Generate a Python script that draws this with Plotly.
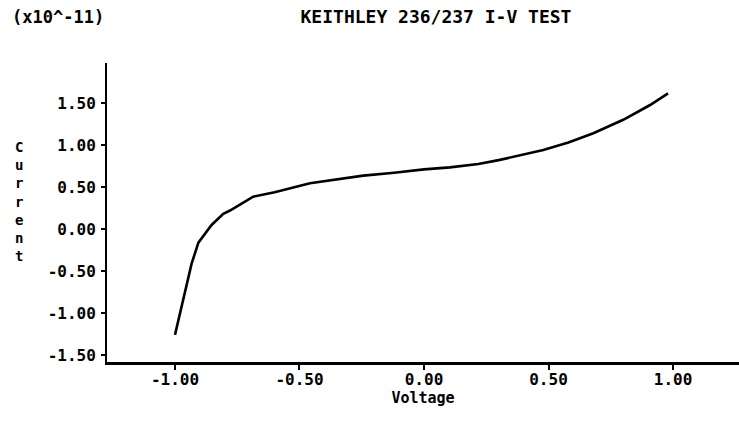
import plotly.graph_objects as go

# I-V sweep from the Keithley 236/237 (current in units of 1e-11 A)
voltage = [-1.00, -0.967, -0.933, -0.906, -0.853, -0.806, -0.779, -0.686, -0.60,
           -0.458, -0.35, -0.244, -0.12, 0.00, 0.104, 0.218, 0.30, 0.479, 0.58,
           0.68, 0.80, 0.908, 0.98]
current = [-1.26, -0.845, -0.41, -0.163, 0.048, 0.18, 0.22, 0.385, 0.437,
           0.544, 0.59, 0.635, 0.67, 0.71, 0.734, 0.774, 0.82, 0.94, 1.03,
           1.14, 1.30, 1.476, 1.615]

x_tickvals = [-1.0, -0.5, 0.0, 0.5, 1.0]
x_ticktext = ["-1.00", "-0.50", "0.00", "0.50", "1.00"]
y_tickvals = [1.5, 1.0, 0.5, 0.0, -0.5, -1.0, -1.5]
y_ticktext = ["1.50", "1.00", "0.50", "0.00", "-0.50", "-1.00", "-1.50"]

W, H = 739, 438
ML, MR, MT, MB = 107, 0, 63, 76
FONT = "DejaVu Sans Mono"

def px_x(px):
    return (px - ML) / (W - ML - MR)

def px_y(py):
    return 1 - (py - MT) / (H - MT - MB)

def bold(size):
    return dict(family=FONT, size=size, color="black", weight="bold")

fig = go.Figure()
fig.add_trace(go.Scatter(
    x=voltage, y=current, mode="lines",
    line=dict(color="black", width=2.6),
    hoverinfo="skip", showlegend=False,
))

fig.update_layout(
    width=W, height=H,
    margin=dict(l=ML, r=MR, t=MT, b=MB, pad=0),
    paper_bgcolor="white", plot_bgcolor="white",
    font=bold(15),
    title=dict(
        text="KEITHLEY 236/237 I-V TEST",
        x=436 / W, xref="container", xanchor="center",
        y=1 - 17 / H, yref="container", yanchor="middle",
        font=bold(18),
    ),
    xaxis=dict(
        range=[-1.273, 1.265],
        tickvals=x_tickvals, ticktext=x_ticktext,
        showgrid=False, zeroline=False,
        showline=True, linecolor="black", linewidth=3,
        ticks="outside", ticklen=5, tickwidth=2, tickcolor="black",
        tickfont=bold(16),
        ticklabelstandoff=-4,
        title=dict(text="Voltage", standoff=0, font=bold(15)),
    ),
    yaxis=dict(
        range=[-1.583, 1.976],
        tickvals=y_tickvals, ticktext=y_ticktext,
        showgrid=False, zeroline=False,
        showline=True, linecolor="black", linewidth=2,
        ticks="outside", ticklen=4, tickwidth=2, tickcolor="black",
        tickfont=bold(16),
        ticklabelstandoff=2,
    ),
)

fig.add_annotation(
    text="(x10^-11)", xref="paper", yref="paper",
    x=px_x(10), y=px_y(17), xanchor="left", yanchor="middle",
    showarrow=False, font=bold(17),
)
fig.add_annotation(
    text="C<br>u<br>r<br>r<br>e<br>n<br>t", xref="paper", yref="paper",
    x=px_x(19), y=px_y(201), xanchor="center", yanchor="middle", align="center",
    showarrow=False, font=bold(14),
)

fig.write_html("out.html")
